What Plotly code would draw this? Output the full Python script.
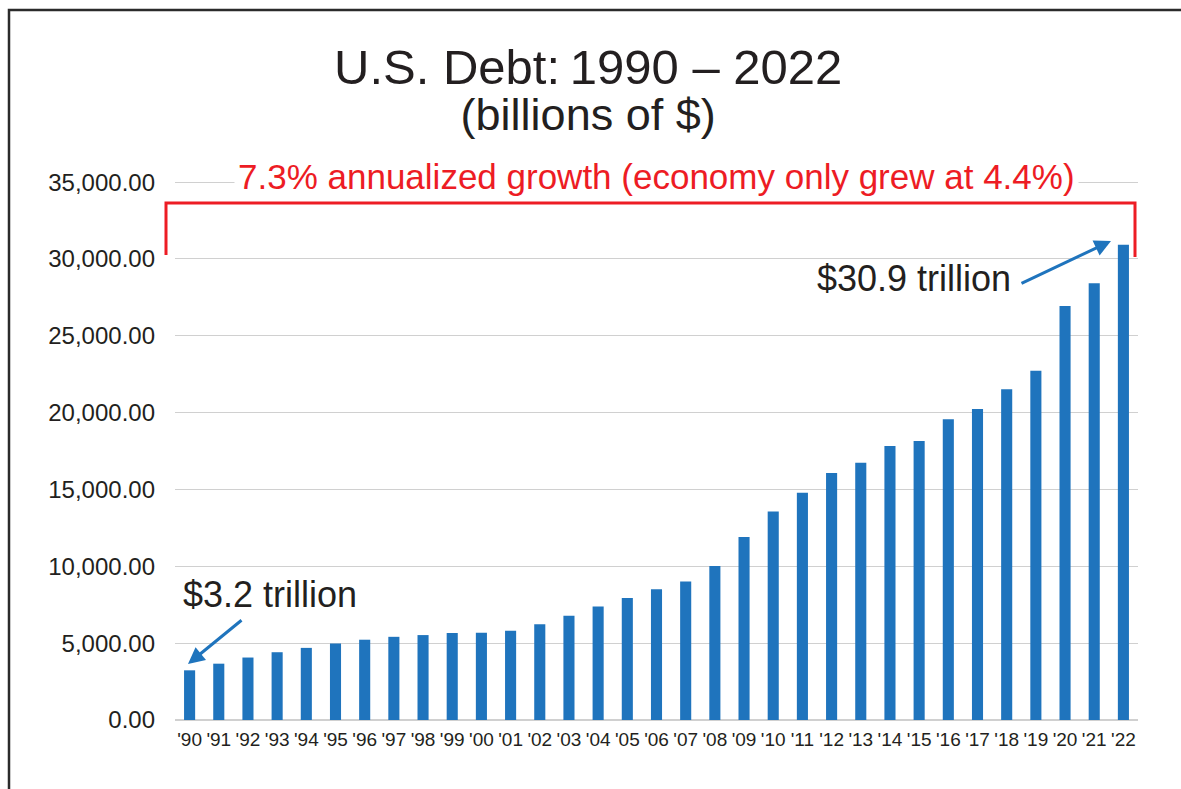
import plotly.graph_objects as go

years = ["'90", "'91", "'92", "'93", "'94", "'95", "'96", "'97", "'98", "'99", "'00",
         "'01", "'02", "'03", "'04", "'05", "'06", "'07", "'08", "'09", "'10", "'11",
         "'12", "'13", "'14", "'15", "'16", "'17", "'18", "'19", "'20", "'21", "'22"]
debt = [3233, 3665, 4065, 4411, 4693, 4974, 5225, 5413, 5526, 5656, 5674,
        5807, 6228, 6783, 7379, 7933, 8507, 9008, 10025, 11910, 13562, 14790,
        16066, 16738, 17824, 18151, 19573, 20245, 21516, 22719, 26945, 28428, 30929]
y_ticks = [0, 5000, 10000, 15000, 20000, 25000, 30000, 35000]

FONT = "Liberation Sans, Arial, sans-serif"
BLUE = "#1f74bd"
RED = "#ed1c24"
DARK = "#231f20"

W, H = 1181, 789
L, R, T, B = 175, 43, 176, 69
pw, ph = W - L - R, H - T - B

def px(x):
    return (x - L) / pw

def py(y):
    return (H - B - y) / ph

fig = go.Figure()
fig.add_trace(go.Bar(x=years, y=debt, marker=dict(color=BLUE, line=dict(width=0)),
                     hoverinfo="x+y"))

fig.update_layout(
    width=W, height=H,
    margin=dict(l=L, r=R, t=T, b=B, pad=0),
    paper_bgcolor="white", plot_bgcolor="white",
    showlegend=False, bargap=0.62,
    font=dict(family=FONT, color=DARK),
)
fig.update_xaxes(type="category", showgrid=False, showline=False, ticks="",
                 tickfont=dict(size=19, color=DARK), tickangle=0, ticklabelstandoff=6)
fig.update_yaxes(range=[0, 35400], tickvals=y_ticks,
                 ticktext=[f"{v:,.2f}" for v in y_ticks],
                 showgrid=True, gridcolor="#d0d0d0", gridwidth=1,
                 zeroline=True, zerolinecolor="#d0d0d0", zerolinewidth=2,
                 showline=False, ticks="", tickfont=dict(size=24, color=DARK),
                 ticklabelstandoff=19)

shapes = []
# outer frame (left + top)
shapes.append(dict(type="path", xref="paper", yref="paper",
                   path=f"M {px(9)} {py(820)} L {px(9)} {py(10)} L {px(1190)} {py(10)}",
                   line=dict(color="#2b2b2b", width=2.5)))
# red bracket
shapes.append(dict(type="path", xref="paper", yref="paper",
                   path=f"M {px(166)} {py(255)} L {px(166)} {py(203)} L {px(1135)} {py(203)} L {px(1135)} {py(257)}",
                   line=dict(color=RED, width=3)))
fig.update_layout(shapes=shapes)

title_text = ("<span style='font-size:49px'>U.S. Debt:\u20091990 \u2013 2022</span><br>"
              "<span style='font-size:45px'>(billions of $)</span>")

annotations = [
    dict(text=title_text, xref="paper", yref="paper",
         x=px(588), y=py(90), xanchor="center", yanchor="middle", showarrow=False,
         align="center", font=dict(size=35, color=DARK, family=FONT)),
    dict(text="7.3% annualized growth (economy only grew at 4.4%)", xref="paper", yref="paper",
         x=px(656), y=py(176), xanchor="center", yanchor="middle", showarrow=False,
         bgcolor="white", borderpad=3,
         font=dict(size=35, color=RED, family=FONT)),
    dict(text="$30.9 trillion", xref="paper", yref="paper",
         x=px(1013), y=py(278), xanchor="right", yanchor="middle", showarrow=False,
         font=dict(size=36, color=DARK, family=FONT)),
    dict(text="$3.2 trillion", xref="paper", yref="paper",
         x=px(181), y=py(594), xanchor="left", yanchor="middle", showarrow=False,
         font=dict(size=36, color=DARK, family=FONT)),
    # arrows (pixel offsets of tail from head)
    dict(text="", xref="paper", yref="paper", axref="pixel", ayref="pixel",
         x=px(1111), y=py(241), ax=-91, ay=43, showarrow=True,
         arrowhead=2, arrowsize=1.1, arrowwidth=3, arrowcolor=BLUE, standoff=0),
    dict(text="", xref="paper", yref="paper", axref="pixel", ayref="pixel",
         x=px(188), y=py(664), ax=55, ay=-45, showarrow=True,
         arrowhead=2, arrowsize=1.1, arrowwidth=3, arrowcolor=BLUE, standoff=0),
]
fig.update_layout(annotations=annotations)

fig.write_html("out.html")
